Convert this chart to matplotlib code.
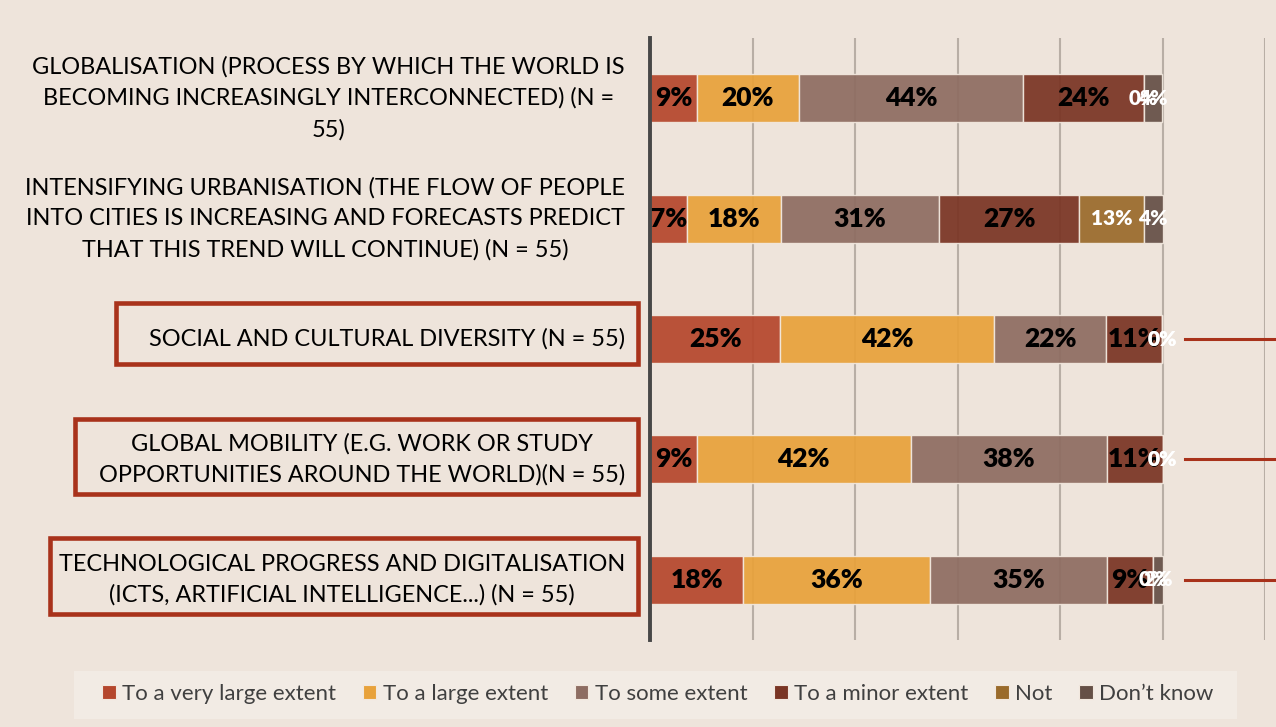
import matplotlib
matplotlib.use('Agg')
import matplotlib.pyplot as plt
from matplotlib.patches import Rectangle, Patch
from matplotlib.lines import Line2D
from matplotlib.transforms import blended_transform_factory
import numpy as np

# ---------------- data ----------------
categories = [
    "GLOBALISATION (PROCESS BY WHICH THE WORLD IS\nBECOMING INCREASINGLY INTERCONNECTED) (N =\n55)",
    "INTENSIFYING URBANISATION (THE FLOW OF PEOPLE\nINTO CITIES IS INCREASING AND FORECASTS PREDICT\nTHAT THIS TREND WILL CONTINUE) (N = 55)",
    "SOCIAL AND CULTURAL DIVERSITY (N = 55)",
    "GLOBAL MOBILITY (E.G. WORK OR STUDY\nOPPORTUNITIES AROUND THE WORLD)(N = 55)",
    "TECHNOLOGICAL PROGRESS AND DIGITALISATION\n(ICTS, ARTIFICIAL INTELLIGENCE...) (N = 55)",
]
series_names = ["To a very large extent", "To a large extent", "To some extent",
                "To a minor extent", "Not", "Don\u2019t know"]
very_large = [9.1, 7.3, 25.4, 9.1, 18.2]
large      = [20.0, 18.2, 41.8, 41.8, 36.4]
some       = [43.6, 30.9, 21.8, 38.2, 34.5]
minor      = [23.6, 27.3, 10.9, 10.9, 9.1]
not_at_all = [0.0, 12.7, 0.0, 0.0, 0.0]
dont_know  = [3.6, 3.6, 0.0, 0.0, 1.8]
highlighted = [False, False, True, True, True]

series_values = [very_large, large, some, minor, not_at_all, dont_know]
colors = ["#B5472D", "#E8A23B", "#8E6D62", "#7A3524", "#9A6B2B", "#655046"]
label_colors = ["black", "black", "black", "black", "white", "white"]
label_sizes = [19, 19, 19, 19, 15, 15]

# ---------------- figure ----------------
W, H = 1276, 727
BG = "#EEE4DB"
RED = "#A8321B"
FONT = "Lato"

fig = plt.figure(figsize=(W / 100, H / 100), dpi=100, facecolor=BG)
ax = fig.add_axes([650 / W, 1 - 640 / H, (1265 - 650) / W, (640 - 38) / H])
ax.set_facecolor(BG)

n = len(categories)
y = np.arange(n)
left = np.zeros(n)
for vals, col, lc, ls in zip(series_values, colors, label_colors, label_sizes):
    vals = np.array(vals)
    ax.barh(y, vals, left=left, height=0.4, color=col, alpha=0.93,
            edgecolor="#F2E8DE", linewidth=1.0, zorder=2)
    for yi, (l, v) in enumerate(zip(left, vals)):
        ax.text(l + v / 2, yi, f"{int(np.floor(v + 0.5))}%", ha="center", va="center",
                color=lc, fontsize=ls, fontweight="heavy", family=FONT, zorder=4)
    left = left + vals

ax.set_xlim(0, 120)
ax.set_ylim(n - 0.5, -0.5)
ax.set_xticks(np.arange(0, 121, 20))
ax.set_yticks([])
ax.tick_params(axis="x", length=0, labelbottom=False)
ax.xaxis.grid(True, color="#B8AEA5", linewidth=1.5, zorder=1)
ax.set_axisbelow(True)
for s in ["top", "right", "bottom"]:
    ax.spines[s].set_visible(False)
ax.spines["left"].set_color("#474747")
ax.spines["left"].set_linewidth(2.8)
ax.spines["left"].set_zorder(5)

# category labels
trans = blended_transform_factory(fig.transFigure, ax.transData)
for yi, cat in enumerate(categories):
    ax.text(625 / W, yi, cat, transform=trans, ha="right", va="center",
            multialignment="center", fontsize=16.9, family=FONT,
            color="black", linespacing=1.55, clip_on=False)

# red highlight boxes (slide annotations)
boxes = {2: (116, 303, 638, 364), 3: (75, 419, 638, 494), 4: (50, 538, 638, 614)}
for idx, (x0, y0, x1, y1) in boxes.items():
    if highlighted[idx]:
        fig.patches.append(Rectangle((x0 / W, 1 - y1 / H), (x1 - x0) / W, (y1 - y0) / H,
                                     transform=fig.transFigure, fill=False,
                                     edgecolor=RED, linewidth=3.3, zorder=6))
        fig.lines.append(Line2D([1185 / W, 1.0], [idx, idx],
                                transform=trans, color=RED, linewidth=2.2))

# legend background
fig.patches.append(Rectangle((74 / W, 1 - 719 / H), (1237 - 74) / W, (719 - 671) / H,
                             transform=fig.transFigure, facecolor="#F2EBE4",
                             edgecolor="none", zorder=0))
handles = [Patch(facecolor=c, edgecolor="#F2E8DE", linewidth=0.8) for c in colors]
leg = fig.legend(handles, series_names, ncol=6, loc="center",
                 bbox_to_anchor=(658 / W, 1 - 694 / H), frameon=False,
                 prop={"family": FONT, "size": 16}, handlelength=0.6, handleheight=0.6,
                 handletextpad=0.3, columnspacing=1.2)
for t in leg.get_texts():
    t.set_color("#404040")

fig.savefig("out.png", dpi=100, facecolor=BG)
